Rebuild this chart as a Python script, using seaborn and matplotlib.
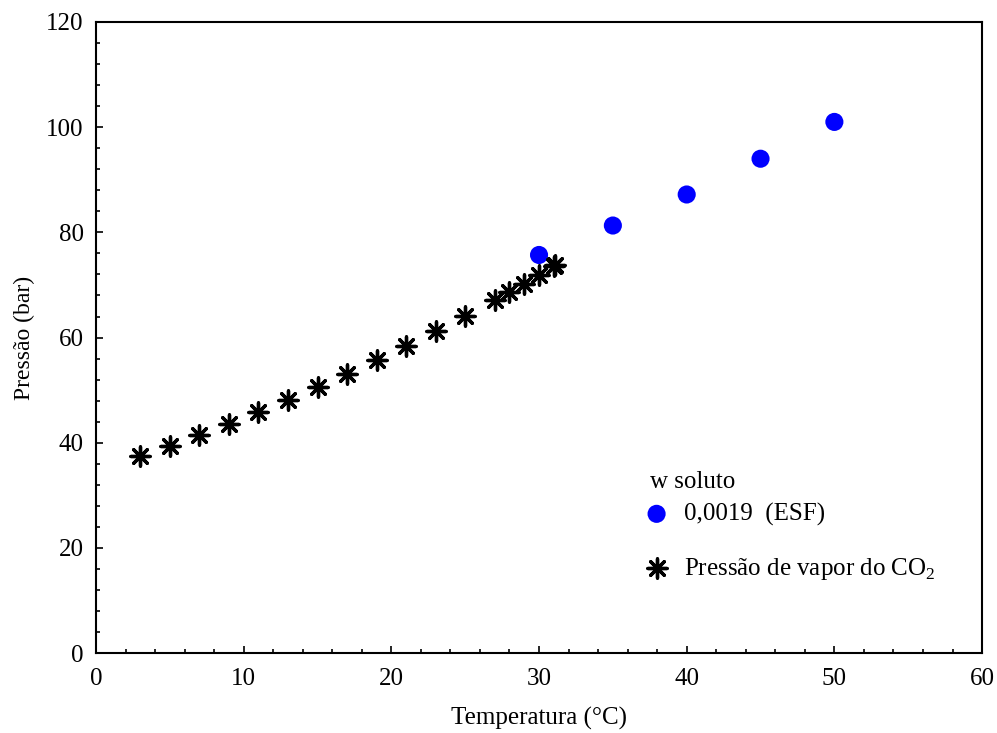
import matplotlib
matplotlib.use('Agg')
import matplotlib.pyplot as plt
import seaborn as sns
import pandas as pd

# dados
temp_esf = [30, 35, 40, 45, 50]
pres_esf = [75.7, 81.3, 87.2, 94.0, 101.0]

temp_vap = [3, 5, 7, 9, 11, 13, 15, 17, 19, 21, 23, 25, 27, 28, 29, 30, 31, 31.1]
pres_vap = [37.5, 39.4, 41.5, 43.6, 45.9, 48.2, 50.6, 53.1, 55.7, 58.4, 61.2, 64.1, 67.2, 68.6, 70.2, 71.9, 73.6, 73.8]

df_esf = pd.DataFrame({'T': temp_esf, 'P': pres_esf})
df_vap = pd.DataFrame({'T': temp_vap, 'P': pres_vap})

sns.set_style('ticks')
plt.rcParams['font.family'] = ['Liberation Serif', 'DejaVu Serif']
plt.rcParams['mathtext.fontset'] = 'custom'
plt.rcParams['mathtext.rm'] = 'Liberation Serif'
plt.rcParams['text.color'] = 'black'
plt.rcParams['axes.labelcolor'] = 'black'

fig = plt.figure(figsize=(9.97, 7.33), dpi=100)
ax = fig.add_axes([0.0963, 0.109, 0.8887, 0.861])

sns.scatterplot(data=df_esf, x='T', y='P', ax=ax, color='#0000ff', s=170,
                marker='o', edgecolor='none', label='0,0019  (ESF)', zorder=3)
sns.scatterplot(data=df_vap, x='T', y='P', ax=ax, color='black', s=190,
                marker=(8, 2, 0), linewidth=2.4, label='Pressão de vapor do CO$_\\mathrm{2}$', zorder=4)

ax.set_xlim(0, 60)
ax.set_ylim(0, 120)
ax.set_xticks(range(0, 61, 10))
ax.set_yticks(range(0, 121, 20))
ax.set_xticks(range(0, 61, 2), minor=True)
ax.set_yticks(range(0, 121, 4), minor=True)
ax.tick_params(which='both', direction='in', labelsize=18, width=1.2, colors='black')
ax.tick_params(which='major', length=5)
ax.tick_params(which='minor', length=3)
ax.tick_params(axis='x', pad=11)
ax.tick_params(axis='y', pad=9)
for s in ax.spines.values():
    s.set_linewidth(1.5)
    s.set_color('black')

ax.set_xlabel('Temperatura (°C)', fontsize=18, labelpad=12)
ax.set_ylabel('Pressão (bar)', fontsize=17, labelpad=8)

ax.text(0.625, 0.271, 'w soluto', transform=ax.transAxes, fontsize=18,
        va='center', ha='left', color='black')
leg = ax.legend(loc='upper left', bbox_to_anchor=(0.596, 0.266),
                frameon=False, fontsize=18, labelspacing=1.2,
                handletextpad=0.5, handlelength=1.2, borderpad=0.2,
                labelcolor='black')

plt.savefig('out.png', dpi=100)
